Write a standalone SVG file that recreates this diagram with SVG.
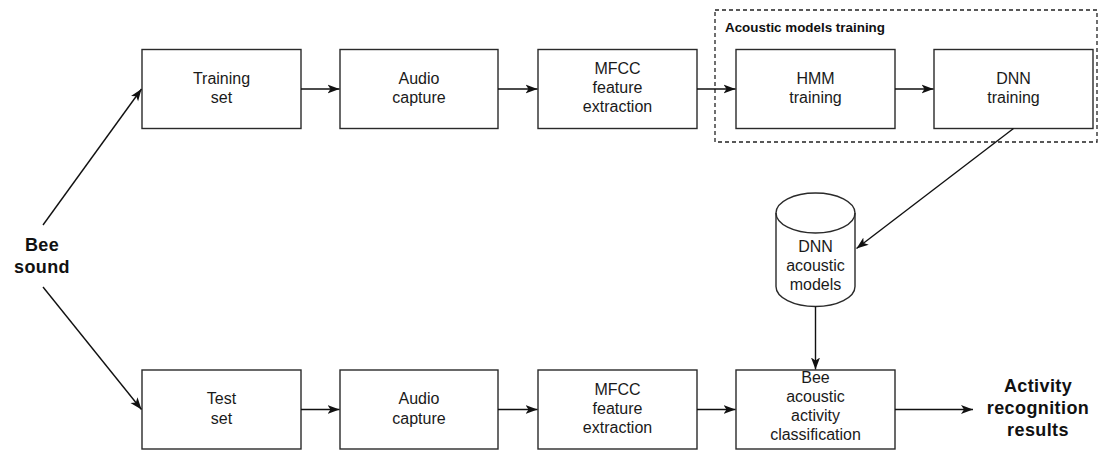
<svg xmlns="http://www.w3.org/2000/svg" width="1099" height="450" viewBox="0 0 1099 450">
  <defs>
    <marker id="arr" markerWidth="13" markerHeight="10" refX="12" refY="5" orient="auto" markerUnits="userSpaceOnUse">
      <path d="M0,0.5 L12,5 L0,9.5 L3,5 Z" fill="#111"/>
    </marker>
  </defs>
  <style>
    .box { fill: #fff; stroke: #2a2a2a; stroke-width: 1.4; }
    .lbl { font-family: "Liberation Sans", Arial, sans-serif; font-size: 16px; fill: #1a1a1a; text-anchor: middle; }
    .big { font-family: "Liberation Sans", Arial, sans-serif; font-size: 18px; font-weight: bold; fill: #111; text-anchor: middle; letter-spacing: 0.4px; }
    .conn { fill: none; stroke: #111; stroke-width: 1.4; marker-end: url(#arr); }
    .group { fill: none; stroke: #222; stroke-width: 1.3; stroke-dasharray: 4 3; }
    .gtitle { font-family: "Liberation Sans", Arial, sans-serif; font-size: 13.4px; font-weight: bold; fill: #111; }
  </style>
  <rect width="1099" height="450" fill="#fff"/>

  <g id="group-acoustic">
    <rect class="group" x="715" y="10" width="382" height="132"/>
    <text class="gtitle" x="725" y="32">Acoustic models training</text>
  </g>

  <g id="bee-sound">
    <text class="big" x="42" y="251">Bee</text>
    <text class="big" x="42" y="273">sound</text>
  </g>

  <g id="training-set">
    <rect class="box" x="142" y="49.5" width="159" height="79"/>
    <text class="lbl" x="221.5" y="83.5">Training</text>
    <text class="lbl" x="221.5" y="103">set</text>
  </g>
  <g id="audio-capture-1">
    <rect class="box" x="340" y="49.5" width="158" height="79"/>
    <text class="lbl" x="419" y="83.5">Audio</text>
    <text class="lbl" x="419" y="103">capture</text>
  </g>
  <g id="mfcc-1">
    <rect class="box" x="538" y="49.5" width="159" height="79"/>
    <text class="lbl" x="617.5" y="74">MFCC</text>
    <text class="lbl" x="617.5" y="93">feature</text>
    <text class="lbl" x="617.5" y="112">extraction</text>
  </g>
  <g id="hmm-training">
    <rect class="box" x="736" y="49.5" width="159" height="79"/>
    <text class="lbl" x="815.5" y="83.5">HMM</text>
    <text class="lbl" x="815.5" y="103">training</text>
  </g>
  <g id="dnn-training">
    <rect class="box" x="934" y="49.5" width="159" height="79"/>
    <text class="lbl" x="1013.5" y="83.5">DNN</text>
    <text class="lbl" x="1013.5" y="103">training</text>
  </g>

  <g id="dnn-models">
    <path class="box" d="M776,213 A39.5,20 0 0 1 855,213 L855,286.5 A39.5,20 0 0 1 776,286.5 Z"/>
    <path class="box" style="fill:none" d="M776,213 A39.5,20 0 0 0 855,213"/>
    <text class="lbl" x="815.5" y="252">DNN</text>
    <text class="lbl" x="815.5" y="271">acoustic</text>
    <text class="lbl" x="815.5" y="290">models</text>
  </g>

  <g id="test-set">
    <rect class="box" x="142" y="370" width="159" height="79"/>
    <text class="lbl" x="221.5" y="404">Test</text>
    <text class="lbl" x="221.5" y="423.5">set</text>
  </g>
  <g id="audio-capture-2">
    <rect class="box" x="340" y="370" width="158" height="79"/>
    <text class="lbl" x="419" y="404">Audio</text>
    <text class="lbl" x="419" y="423.5">capture</text>
  </g>
  <g id="mfcc-2">
    <rect class="box" x="538" y="370" width="159" height="79"/>
    <text class="lbl" x="617.5" y="394.5">MFCC</text>
    <text class="lbl" x="617.5" y="413.5">feature</text>
    <text class="lbl" x="617.5" y="432.5">extraction</text>
  </g>
  <g id="classification">
    <rect class="box" x="736" y="370" width="159" height="79"/>
    <text class="lbl" x="815.5" y="383">Bee</text>
    <text class="lbl" x="815.5" y="402">acoustic</text>
    <text class="lbl" x="815.5" y="421">activity</text>
    <text class="lbl" x="815.5" y="440">classification</text>
  </g>

  <g id="results">
    <text class="big" x="1038" y="392">Activity</text>
    <text class="big" x="1038" y="414">recognition</text>
    <text class="big" x="1038" y="436">results</text>
  </g>

  <g id="connectors">
    <line class="conn" x1="43" y1="225" x2="141.5" y2="89"/>
    <line class="conn" x1="43" y1="287" x2="141.5" y2="409.5"/>
    <line class="conn" x1="301" y1="89" x2="339.5" y2="89"/>
    <line class="conn" x1="498" y1="89" x2="537.5" y2="89"/>
    <line class="conn" x1="697" y1="89" x2="735.5" y2="89"/>
    <line class="conn" x1="895" y1="89" x2="933.5" y2="89"/>
    <line class="conn" x1="1013.5" y1="128.5" x2="856.5" y2="248.5"/>
    <line class="conn" x1="815.5" y1="306.5" x2="815.5" y2="369.5"/>
    <line class="conn" x1="301" y1="409.5" x2="339.5" y2="409.5"/>
    <line class="conn" x1="498" y1="409.5" x2="537.5" y2="409.5"/>
    <line class="conn" x1="697" y1="409.5" x2="735.5" y2="409.5"/>
    <line class="conn" x1="895" y1="409.5" x2="973" y2="409.5"/>
  </g>
</svg>
